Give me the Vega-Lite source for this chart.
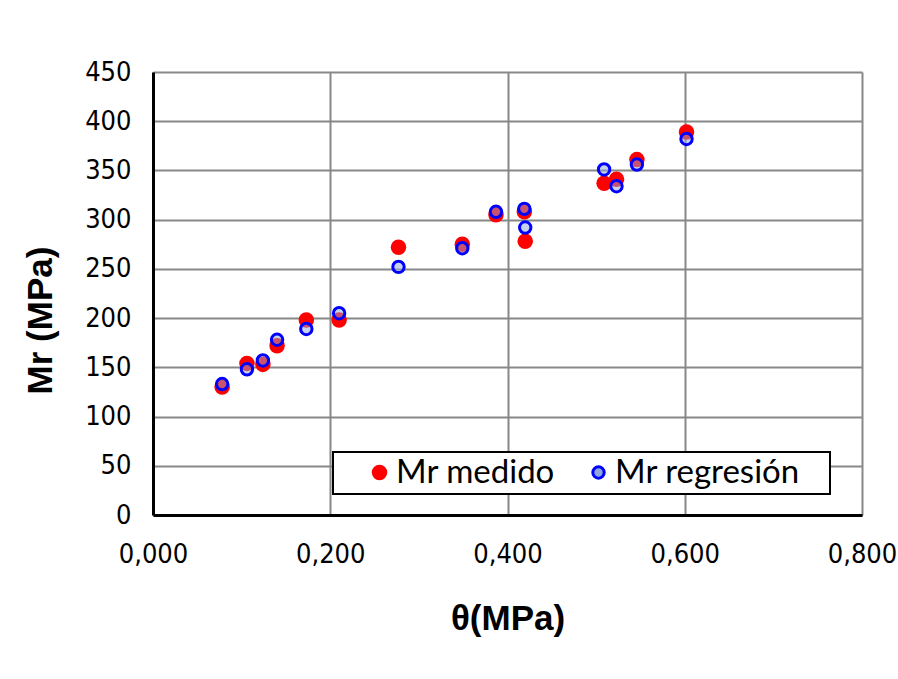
{
  "$schema": "https://vega.github.io/schema/vega-lite/v6.json",
  "width": 709,
  "height": 443,
  "autosize": {"type": "none"},
  "padding": {"left": 153, "top": 72, "right": 36, "bottom": 164},
  "background": "white",
  "data": {
    "values": [
      {"theta": 0.078, "mr": 130, "serie": "Mr medido"},
      {"theta": 0.106, "mr": 154, "serie": "Mr medido"},
      {"theta": 0.124, "mr": 153, "serie": "Mr medido"},
      {"theta": 0.140, "mr": 172, "serie": "Mr medido"},
      {"theta": 0.173, "mr": 198, "serie": "Mr medido"},
      {"theta": 0.210, "mr": 198, "serie": "Mr medido"},
      {"theta": 0.277, "mr": 272, "serie": "Mr medido"},
      {"theta": 0.349, "mr": 275, "serie": "Mr medido"},
      {"theta": 0.387, "mr": 305, "serie": "Mr medido"},
      {"theta": 0.419, "mr": 308, "serie": "Mr medido"},
      {"theta": 0.420, "mr": 278, "serie": "Mr medido"},
      {"theta": 0.509, "mr": 337, "serie": "Mr medido"},
      {"theta": 0.523, "mr": 341, "serie": "Mr medido"},
      {"theta": 0.546, "mr": 361, "serie": "Mr medido"},
      {"theta": 0.602, "mr": 389, "serie": "Mr medido"},
      {"theta": 0.078, "mr": 133, "serie": "Mr regresión"},
      {"theta": 0.106, "mr": 148, "serie": "Mr regresión"},
      {"theta": 0.124, "mr": 157, "serie": "Mr regresión"},
      {"theta": 0.140, "mr": 178, "serie": "Mr regresión"},
      {"theta": 0.173, "mr": 189, "serie": "Mr regresión"},
      {"theta": 0.210, "mr": 205, "serie": "Mr regresión"},
      {"theta": 0.277, "mr": 252, "serie": "Mr regresión"},
      {"theta": 0.349, "mr": 271, "serie": "Mr regresión"},
      {"theta": 0.387, "mr": 308, "serie": "Mr regresión"},
      {"theta": 0.419, "mr": 311, "serie": "Mr regresión"},
      {"theta": 0.420, "mr": 292, "serie": "Mr regresión"},
      {"theta": 0.509, "mr": 351, "serie": "Mr regresión"},
      {"theta": 0.523, "mr": 334, "serie": "Mr regresión"},
      {"theta": 0.546, "mr": 356, "serie": "Mr regresión"},
      {"theta": 0.602, "mr": 382, "serie": "Mr regresión"}
    ]
  },
  "mark": {"type": "point", "shape": "circle", "filled": false, "opacity": 1},
  "encoding": {
    "x": {
      "field": "theta", "type": "quantitative",
      "scale": {"domain": [0, 0.8], "nice": false, "zero": true},
      "axis": {
        "values": [0, 0.2, 0.4, 0.6, 0.8],
        "labelExpr": "replace(format(datum.value, '.3f'), '.', ',')",
        "labelFlush": false,
        "labelOverlap": false,
        "title": "θ(MPa)",
        "labelPadding": 26,
        "titlePadding": 34
      }
    },
    "y": {
      "field": "mr", "type": "quantitative",
      "scale": {"domain": [0, 450], "nice": false},
      "axis": {
        "values": [0, 50, 100, 150, 200, 250, 300, 350, 400, 450],
        "title": "Mr (MPa)",
        "labelPadding": 22,
        "titlePadding": 26,
        "titleY": 248
      }
    },
    "fill": {
      "field": "serie", "type": "nominal",
      "scale": {"domain": ["Mr medido", "Mr regresión"], "range": ["#ff0000", "#8fa6dc"]},
      "legend": {"title": " "}
    },
    "fillOpacity": {
      "field": "serie", "type": "nominal",
      "scale": {"domain": ["Mr medido", "Mr regresión"], "range": [1, 0.5]},
      "legend": {"title": " "}
    },
    "stroke": {
      "field": "serie", "type": "nominal",
      "scale": {"domain": ["Mr medido", "Mr regresión"], "range": ["#ff0000", "#0000ff"]},
      "legend": {"title": " "}
    },
    "strokeWidth": {
      "field": "serie", "type": "nominal",
      "scale": {"domain": ["Mr medido", "Mr regresión"], "range": [0.01, 3]},
      "legend": {"title": " "}
    },
    "size": {
      "field": "serie", "type": "nominal",
      "scale": {"domain": ["Mr medido", "Mr regresión"], "range": [240, 130]},
      "legend": {"title": " "}
    }
  },
  "config": {
    "view": {"stroke": null},
    "axis": {
      "labelFont": "DejaVu Sans Condensed",
      "labelFontSize": 27,
      "labelColor": "#000000",
      "titleFont": "Liberation Sans",
      "titleFontSize": 35,
      "titleFontWeight": "bold",
      "titleColor": "#000000",
      "domainColor": "#000000",
      "domainWidth": 3,
      "ticks": false,
      "gridColor": "#888888",
      "gridWidth": 2,
      "gridOpacity": 1
    },
    "legend": {
      "orient": "none",
      "legendX": 180,
      "legendY": 380,
      "direction": "horizontal",
      "labelFont": "Lato",
      "labelFontSize": 33,
      "labelColor": "#000000",
      "titleOrient": "right",
      "titlePadding": 26,
      "titleFontSize": 12,
      "fillColor": "white",
      "strokeColor": "#000000",
      "strokeWidth": 2,
      "padding": 4,
      "symbolOffset": 26,
      "columnPadding": 0,
      "gridAlign": "none",
      "symbolSize": 200,
      "labelOffset": 0,
      "labelLimit": 400
    }
  }
}
